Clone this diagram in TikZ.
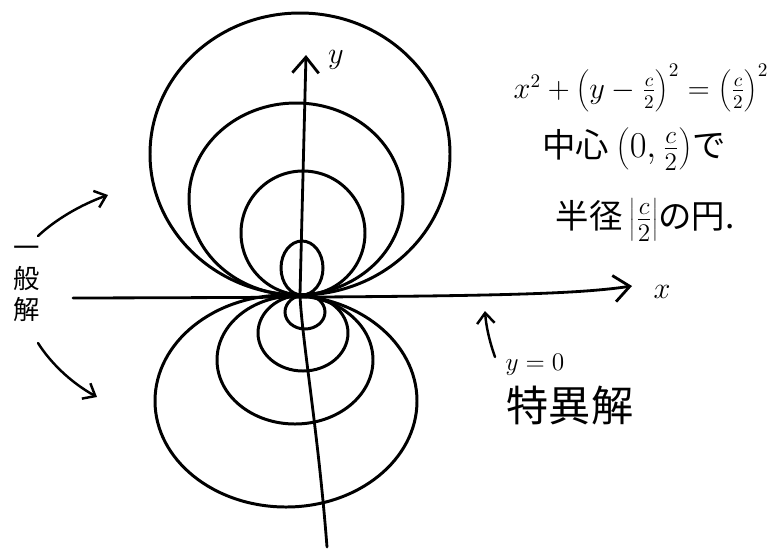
\documentclass[tikz,border=0pt]{standalone}
\usepackage{fontspec}
\newfontfamily\jpfont{Noto Sans CJK JP}
\usetikzlibrary{arrows.meta,calc}
\usepackage{tkz-euclide}

\newcommand\bigmath[1]{{\fontsize{22}{26}\selectfont$#1$}}

\tikzset{
  sol/.style={line width=1.7pt,line cap=round},
  axis/.style={line width=1.6pt,line cap=round,
    -{Straight Barb[length=9pt,width=15pt]}},
  arr/.style={line width=1.4pt,line cap=round,
    -{Straight Barb[length=6pt,width=10pt]}},
  lbl/.style={inner sep=0pt,font=\fontsize{17}{20}\selectfont},
  jp/.style={inner sep=0pt,font=\fontsize{19}{23}\selectfont\jpfont},
}

\begin{document}
\begin{tikzpicture}[x=0.02cm,y=-0.02cm]
\useasboundingbox (0,0) rectangle (771,549);

\tkzDefPoints{300/295/O,73/298/xl,632/286/xr,327/547/yb,306/55/yt}
% centres of the circles above and below the x axis
\tkzDefPoints{302/268/A1,303/233/A2,296/199/A3,300/154/A4}
\tkzDefPoints{305/312/B1,303/333/B2,295/360/B3,286/401/B4}
% ends of the pointers
\tkzDefPoints{38/236/P1,108/195/P2,38/343/Q1,97/397/Q2,495/357/R1,485/311/R2}

\draw[sol] (A1) ellipse [x radius=21,y radius=27];
\draw[sol] (A2) ellipse [x radius=62,y radius=62];
\draw[sol] (A3) ellipse [x radius=107,y radius=96];
\draw[sol] (A4) ellipse [x radius=150,y radius=141];

\draw[sol] (B1) ellipse [x radius=20,y radius=17];
\draw[sol] (B2) ellipse [x radius=45,y radius=38];
\draw[sol] (B3) ellipse [x radius=78,y radius=64];
\draw[sol] (B4) ellipse [x radius=131,y radius=106];

\draw[axis] (xl) .. controls (480,297) and (570,295) .. (xr);
\draw[axis] (yb) .. controls (318,430) and (302,340) .. (O) -- (yt);

\node[lbl] (lx) at (662,292) {$x$};
\node[lbl] (ly) at (336,60) {$y$};

\node[inner sep=0pt,font=\fontsize{16}{19}\selectfont] (eq) at (641,88)
  {$x^2+\left(y-\frac{c}{2}\right)^2=\left(\frac{c}{2}\right)^2$};
\node[jp] (cen) at (634,149) {中心 \bigmath{\left(0,\frac{c}{2}\right)}で};
\node[jp] (rad) at (645,220) {半径 \bigmath{\left|\frac{c}{2}\right|}の円.};

\node[jp,align=center,font=\fontsize{15}{17.6}\selectfont\jpfont] (gen) at (27,284)
  {一\\般\\解};
\node[lbl,font=\fontsize{15}{18}\selectfont] (y0) at (535,365) {$y=0$};
\node[jp,font=\fontsize{24}{28}\selectfont\jpfont] (sing) at (570,405) {特異解};

\draw[arr] (P1) .. controls (55,220) and (80,205) .. (P2);
\draw[arr] (Q1) .. controls (50,362) and (70,382) .. (Q2);
\draw[arr] (R1) .. controls (489,340) and (486,325) .. (R2);

\end{tikzpicture}
\end{document}
